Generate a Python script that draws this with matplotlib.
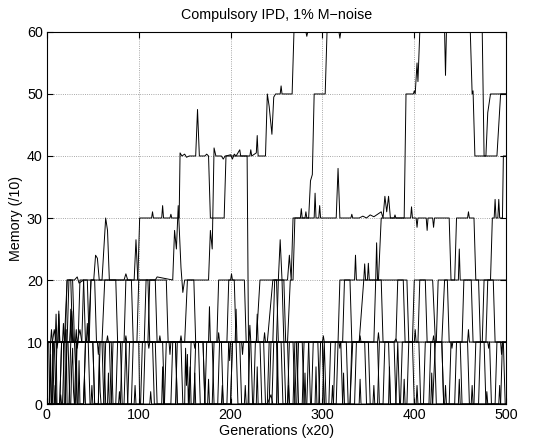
import matplotlib
matplotlib.use("Agg")
import matplotlib.pyplot as plt

# memory size (/10) of the dominant strategy, one list per run, (generation x20, memory)
run_a = [(0, 10), (6, 10), (8, 12), (10, 10), (19, 10), (22, 20), (30, 20), (33, 20.5), (35, 19.5), (40, 20),
         (51, 20), (53, 24), (55, 23.5), (57, 20), (84, 20), (86, 21), (88, 20), (99, 20), (101, 30), (114, 30),
         (115, 31), (116, 30), (125, 30), (126, 32), (127, 30), (134, 30), (135, 30.6), (136, 30), (144, 30),
         (145, 40.5), (147, 40), (150, 40.3), (152, 39.8), (155, 40), (162, 40), (164, 47.5), (166, 40), (172, 40),
         (174, 40.3), (176, 40), (178, 30), (193, 30), (195, 40), (200, 40.2), (202, 39.5), (204, 40.3), (206, 40),
         (210, 41), (211, 40), (221, 40), (222, 41), (223, 40), (228, 40.5), (229, 43.3), (230, 40), (238, 40),
         (240, 50), (242, 48), (244, 45), (245, 43.5), (247, 49.5), (249, 50), (254, 50), (255, 51.3), (256, 50),
         (267, 50), (269, 60), (282, 60), (283, 59.3), (284, 60), (461, 60), (463, 50), (464, 50.5), (466, 40),
         (478, 40), (480, 47), (483, 50), (500, 50)]

run_b = [(0, 0), (3, 0), (4, 10), (6, 10), (8, 0), (14, 0), (16, 10), (25, 10), (27, 15), (29, 10), (45, 10),
         (48, 20), (60, 20), (62, 25), (64, 30), (66, 28), (68, 20), (95, 20), (97, 26.5), (99, 20), (118, 20),
         (120, 20.5), (137, 20), (139, 28), (141, 25), (143, 32), (146, 22), (148, 18), (150, 20), (168, 20),
         (176, 20), (178, 28), (180, 25), (182, 41.3), (184, 40), (190, 40), (192, 39.5), (194, 40), (218, 40),
         (220, 0), (240, 0), (244, 1.5), (246, 0), (270, 0), (272, 10), (285, 10), (287, 0), (300, 0), (302, 10),
         (304, 0), (330, 0), (333, 10), (360, 10), (362, 0), (380, 0), (382, 10), (384, 0), (420, 0), (423, 10),
         (430, 10), (432, 0), (500, 0)]

run_c = [(0, 10), (12, 10), (13, 14.5), (14, 10), (30, 10), (33, 0), (40, 0), (42, 10), (60, 10), (63, 20),
         (75, 20), (77, 10), (110, 10), (112, 20), (130, 20), (132, 10), (185, 10), (187, 20), (200, 20),
         (201, 21), (202, 20), (215, 20), (217, 10), (240, 10), (246, 20), (252, 20), (254, 26.5), (256, 20),
         (262, 20), (264, 24), (266, 20), (268, 30), (285, 30), (287, 36), (289, 37), (291, 50), (303, 50),
         (305, 60), (318, 60), (319, 59), (320, 60), (474, 60), (476, 40), (490, 40), (492, 45), (494, 50),
         (500, 50)]

run_d = [(0, 0), (20, 0), (22, 10), (50, 10), (52, 0), (70, 0), (72, 10), (98, 10), (100, 20), (110, 20),
         (112, 10), (150, 10), (153, 20), (160, 20), (162, 10), (228, 10), (232, 20), (256, 20), (258, 10),
         (262, 10), (265, 20), (268, 20), (270, 30), (276, 30), (277, 31.5), (278, 30), (281, 30), (282, 31),
         (283, 30), (291, 30), (292, 34), (293, 30), (296, 30), (297, 32), (298, 30), (315, 30), (317, 38),
         (319, 30), (331, 30), (332, 30.6), (333, 30), (340, 30), (344, 30.3), (348, 30), (352, 30.5), (356, 30.2),
         (360, 30.6), (364, 31), (366, 30), (368, 33.5), (370, 31), (372, 33.5), (374, 30), (378, 30),
         (379, 30.5), (380, 30), (389, 30), (391, 50), (399, 50), (400, 50.5), (401, 50), (403, 55), (404, 52),
         (406, 60), (433, 60), (434, 53), (435, 60), (500, 60)]

run_e = [(0, 0), (9, 0), (11, 10), (20, 10), (22, 20), (26, 20), (28, 10), (38, 10), (40, 20), (44, 20),
         (46, 10), (80, 10), (82, 0), (92, 0), (94, 10), (170, 10), (172, 0), (200, 0), (202, 10), (246, 10),
         (248, 20), (250, 20), (252, 10), (300, 10), (302, 0), (312, 0), (314, 10), (340, 10), (345, 20),
         (361, 20), (364, 30), (396, 30), (397, 31.8), (398, 30), (402, 30), (403, 28.5), (404, 30), (413, 30),
         (414, 28), (415, 30), (420, 30), (421, 28.5), (422, 30), (438, 30), (440, 20), (444, 20), (446, 30),
         (458, 30), (459, 31), (460, 30), (465, 30), (467, 20), (483, 20), (485, 30), (487, 30), (488, 33),
         (489, 30), (491, 30), (492, 33), (493, 30), (496, 30), (497, 40), (500, 40)]

run_f = [(0, 0), (30, 0), (32, 10), (60, 10), (62, 0), (84, 0), (86, 10), (140, 10), (142, 0), (180, 0),
         (182, 10), (262, 10), (264, 0), (278, 0), (280, 10), (317, 10), (319, 20), (335, 20), (336, 24),
         (337, 20), (345, 20), (346, 22.6), (347, 20), (349, 20), (350, 22.7), (351, 20), (358, 20), (359, 26),
         (360, 20), (392, 20), (394, 10), (398, 10), (400, 20), (420, 20), (423, 10), (430, 10), (433, 20),
         (448, 20), (449, 25), (450, 20), (470, 20), (472, 10), (478, 10), (480, 20), (500, 20)]

run_h = [(0, 10), (1, 0), (3, 0), (4, 8), (5, 0), (8, 0), (9, 3), (10, 0), (14, 0), (15, 1.5), (16, 0), (20, 0),
         (21, 12), (22, 0), (26, 0), (27, 6), (28, 9), (29, 2), (30, 0), (34, 0), (35, 7), (36, 0), (40, 0),
         (41, 4), (42, 0), (48, 0), (49, 3), (50, 0), (56, 0), (57, 8), (58, 2), (59, 0), (66, 0), (67, 5),
         (68, 0), (78, 0), (79, 2), (80, 0), (95, 0), (96, 3), (97, 0), (112, 0), (113, 2), (114, 0), (125, 0),
         (126, 6), (127, 0), (150, 0), (151, 9), (152, 3), (153, 8), (154, 0), (156, 6), (157, 0), (160, 0),
         (161, 5), (162, 0), (175, 0), (176, 4), (177, 0), (190, 0), (191, 3), (192, 0), (215, 0), (216, 3),
         (217, 0), (228, 0), (229, 6), (230, 0), (250, 0), (251, 10), (252, 0), (262, 0), (263, 3), (264, 0),
         (280, 0), (281, 5), (282, 0), (292, 0), (293, 6), (294, 0), (310, 0), (311, 3), (312, 0), (322, 0),
         (323, 5), (324, 0), (340, 0), (341, 4), (342, 0), (355, 0), (356, 3), (357, 0), (372, 0), (373, 6),
         (374, 0), (388, 0), (389, 4), (390, 0), (402, 0), (403, 3), (404, 0), (418, 0), (419, 5), (420, 0),
         (433, 0), (434, 3), (435, 0), (448, 0), (449, 4), (450, 0), (462, 0), (463, 3), (464, 0), (478, 0),
         (479, 2), (480, 0), (492, 0), (493, 3), (494, 0), (500, 0)]

run_i = [(0, 10), (2, 10), (3, 0), (6, 0), (7, 10), (12, 10), (13, 15), (14, 10), (18, 10), (19, 0), (24, 0),
         (26, 10), (32, 10), (33, 0), (40, 0), (42, 10), (50, 10), (52, 0), (56, 0), (58, 10), (70, 10), (72, 0),
         (88, 0), (90, 10), (100, 10), (101, 0), (105, 0), (107, 10), (115, 10), (117, 0), (128, 0), (130, 10),
         (140, 10), (142, 0), (155, 0), (157, 10), (165, 10), (167, 0), (172, 0), (174, 10), (190, 10), (192, 0),
         (200, 0), (202, 10), (210, 10), (212, 0), (225, 0), (227, 10), (236, 10), (238, 0), (245, 0), (247, 10),
         (255, 10), (257, 0), (268, 0), (270, 10), (278, 10), (280, 0), (288, 0), (290, 10), (300, 10), (302, 0),
         (315, 0), (317, 10), (326, 10), (328, 0), (335, 0), (337, 10), (346, 10), (348, 0), (360, 0), (362, 10),
         (372, 10), (374, 0), (385, 0), (387, 10), (398, 10), (400, 0), (410, 0), (412, 10), (422, 10), (424, 0),
         (438, 0), (440, 10), (450, 10), (452, 0), (465, 0), (467, 10), (476, 10), (478, 0), (488, 0), (490, 10),
         (497, 10), (499, 0), (500, 0)]

run_j = [(0, 0), (5, 0), (7, 10), (10, 10), (11, 0), (17, 0), (19, 10), (23, 10), (25, 0), (31, 0), (33, 10),
         (36, 12), (38, 10), (45, 10), (47, 0), (62, 0), (64, 10), (68, 10), (70, 0), (80, 0), (82, 10), (86, 10),
         (88, 0), (102, 0), (104, 10), (118, 10), (120, 0), (135, 0), (137, 10), (146, 10), (148, 0), (160, 0),
         (162, 10), (180, 10), (182, 0), (196, 0), (198, 10), (206, 10), (208, 0), (219, 0), (221, 10), (232, 10),
         (234, 0), (242, 0), (244, 10), (250, 10), (252, 0), (262, 0), (264, 10), (268, 10), (270, 0), (283, 0),
         (285, 10), (295, 10), (297, 0), (307, 0), (309, 10), (320, 10), (322, 0), (330, 0), (332, 10), (350, 10),
         (352, 0), (366, 0), (368, 10), (378, 10), (380, 0), (392, 0), (394, 10), (405, 10), (407, 0), (416, 0),
         (418, 10), (430, 10), (432, 0), (444, 0), (446, 10), (458, 10), (460, 0), (470, 0), (472, 10), (482, 10),
         (484, 0), (494, 0), (496, 10), (500, 10)]

run_k = [(0, 10), (8, 10), (10, 0), (14, 0), (16, 10), (22, 10), (24, 20), (28, 20), (30, 10), (34, 10),
         (36, 20), (40, 20), (42, 10), (46, 10), (48, 20), (52, 20), (54, 10), (62, 10), (64, 0), (75, 0),
         (77, 10), (84, 10), (86, 20), (92, 20), (94, 10), (106, 10), (108, 20), (118, 20), (120, 10), (126, 10),
         (128, 0), (140, 0), (142, 10), (170, 10), (172, 0), (186, 0), (188, 10), (196, 10), (198, 20), (204, 20),
         (206, 10), (222, 10), (224, 0), (240, 0), (242, 10), (250, 10), (252, 20), (258, 20), (260, 10),
         (272, 10), (274, 0), (296, 0), (298, 10), (322, 10), (324, 20), (330, 20), (332, 10), (356, 10),
         (358, 20), (364, 20), (366, 10), (380, 10), (382, 20), (388, 20), (390, 10), (404, 10), (406, 20),
         (412, 20), (414, 10), (424, 10), (426, 20), (436, 20), (438, 10), (452, 10), (454, 20), (462, 20),
         (464, 10), (474, 10), (476, 20), (486, 20), (488, 10), (500, 10)]

run_l = [(0, 10), (4, 10), (5, 12), (6, 10), (9, 10), (10, 14.5), (11, 9), (12, 10), (17, 10), (18, 13),
         (19, 10), (25, 10), (26, 15.3), (27, 10), (31, 10), (32, 12), (33, 9), (34, 10), (43, 10), (44, 13),
         (45, 10), (55, 10), (56, 8), (57, 10), (65, 10), (66, 11), (67, 10), (85, 10), (86, 11), (87, 10),
         (110, 10), (111, 9), (112, 10), (122, 10), (123, 11), (124, 10), (133, 10), (134, 8), (135, 10),
         (145, 10), (146, 11), (147, 10), (160, 10), (161, 9), (162, 10), (176, 10), (177, 15.7), (178, 10),
         (186, 10), (187, 11.5), (188, 10), (198, 10), (199, 7), (200, 10), (205, 10), (206, 15.3), (207, 10),
         (212, 10), (213, 8), (214, 10), (220, 10), (221, 12.7), (222, 10), (228, 10), (229, 14.5), (230, 10),
         (236, 10), (237, 11.5), (238, 10), (258, 10), (260, 0), (272, 0), (274, 10), (300, 10), (301, 11),
         (302, 10), (318, 10), (319, 9), (320, 10), (340, 10), (341, 11), (342, 10), (360, 10), (361, 11.5),
         (362, 10), (378, 10), (380, 10.5), (381, 10), (400, 10), (401, 12), (402, 10), (420, 10), (421, 11),
         (422, 10), (440, 10), (441, 9), (442, 10), (458, 10), (459, 12), (460, 10), (480, 10), (481, 9),
         (482, 10), (494, 10), (495, 8), (496, 10), (500, 10)]

runs = [run_a, run_b, run_c, run_d, run_e, run_f, run_h, run_i, run_j, run_k, run_l]

plt.rcParams['font.family'] = ['Liberation Sans', 'DejaVu Sans']
plt.rcParams['font.size'] = 10.3

fig = plt.figure(figsize=(5.39, 4.44), dpi=100)
ax = fig.add_axes([0.087, 0.09, 0.852, 0.838])

for run in runs:
    gens, mem = zip(*run)
    ax.plot(gens, mem, color='k', linewidth=0.7)

ax.set_xlim(0, 500)
ax.set_ylim(0, 60)
ax.set_xticks(range(0, 501, 100))
ax.set_yticks(range(0, 61, 10))
ax.grid(True, linestyle=':', color='0.55', linewidth=0.6)
ax.set_axisbelow(True)
ax.tick_params(direction='in', length=4, top=True, right=True, pad=3)
for s in ax.spines.values():
    s.set_linewidth(0.8)

ax.set_title('Compulsory IPD, 1% M\u2212noise', fontsize=10.3, pad=9)
ax.set_xlabel('Generations (x20)', labelpad=1)
ax.set_ylabel('Memory (/10)', labelpad=3)

fig.savefig('out.png', dpi=100)
